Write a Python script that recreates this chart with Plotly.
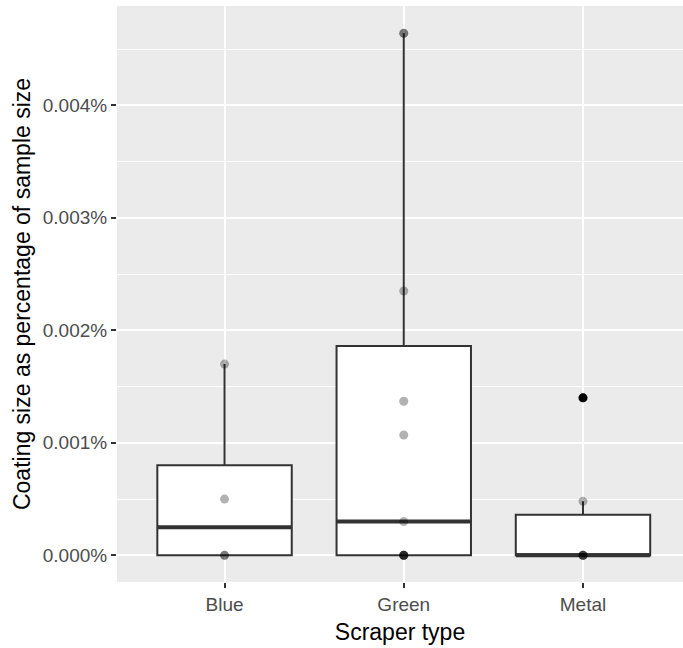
import numpy as np
import plotly.graph_objects as go

categories = ["Blue", "Green", "Metal"]
positions = [1, 2, 3]
blue_vals = [0.0, 0.0, 0.0005, 0.0017]
green_vals = [0.0, 0.0, 0.0, 0.0, 0.0, 0.0003, 0.00107, 0.00137, 0.00235, 0.00464, 0.00464]
metal_vals = [0.0, 0.0, 0.0, 0.0, 0.00048, 0.0014]
groups = [blue_vals, green_vals, metal_vals]
y_ticks = [0.0, 0.001, 0.002, 0.003, 0.004]
y_tick_labels = ["0.000%", "0.001%", "0.002%", "0.003%", "0.004%"]

BOX_W = 0.75
LINE = "#333333"


def box_stats(vals):
    v = np.asarray(vals, dtype=float)
    q1, med, q3 = np.percentile(v, [25, 50, 75])
    iqr = q3 - q1
    lo_lim, hi_lim = q1 - 1.5 * iqr, q3 + 1.5 * iqr
    inside = v[(v >= lo_lim) & (v <= hi_lim)]
    outl = v[(v < lo_lim) | (v > hi_lim)]
    return q1, med, q3, inside.min(), inside.max(), outl


fig = go.Figure()
stats = [box_stats(g) for g in groups]
for pos, (q1, med, q3, lf, uf, outl) in zip(positions, stats):
    fig.add_trace(go.Box(
        x=[pos], q1=[q1], median=[med], q3=[q3], lowerfence=[lf], upperfence=[uf],
        width=BOX_W, whiskerwidth=0, fillcolor="white", boxpoints=False,
        line=dict(color=LINE, width=2), showlegend=False, hoverinfo="skip"))

for pos, (q1, med, q3, lf, uf, outl) in zip(positions, stats):
    fig.add_trace(go.Scatter(
        x=[pos - BOX_W / 2, pos + BOX_W / 2], y=[med, med], mode="lines",
        line=dict(color=LINE, width=4), showlegend=False, hoverinfo="skip"))
    if len(outl):
        fig.add_trace(go.Scatter(
            x=[pos] * len(outl), y=list(outl), mode="markers",
            marker=dict(color="black", size=9, line=dict(width=0)),
            showlegend=False, hoverinfo="skip"))

for pos, vals in zip(positions, groups):
    fig.add_trace(go.Scatter(
        x=[pos] * len(vals), y=vals, mode="markers",
        marker=dict(color="black", size=9, opacity=0.3, line=dict(width=0)),
        showlegend=False, hoverinfo="skip"))

fig.update_layout(
    width=683, height=648,
    margin=dict(l=117, r=0, t=6, b=66),
    paper_bgcolor="white", plot_bgcolor="#EBEBEB",
    font=dict(family="Liberation Sans, Arial, sans-serif"),
    xaxis=dict(
        range=[0.4, 3.558], tickvals=positions, ticktext=categories,
        showgrid=True, gridcolor="white", gridwidth=2, zeroline=False,
        ticks="outside", ticklen=5, tickwidth=2, tickcolor=LINE,
        tickfont=dict(size=19, color="#4D4D4D"), automargin=False,
        title=dict(text="Scraper type", font=dict(size=23, color="black"), standoff=10),
    ),
    yaxis=dict(
        range=[-0.000237, 0.004883], tickvals=y_ticks, ticktext=y_tick_labels,
        showgrid=True, gridcolor="white", gridwidth=2, zeroline=False,
        ticks="outside", ticklen=5, tickwidth=2, tickcolor=LINE,
        tickfont=dict(size=19, color="#4D4D4D"), automargin=False,
        minor=dict(dtick=0.0005, tick0=0, showgrid=True, gridcolor="white", gridwidth=1, ticks=""),
        title=dict(text="Coating size as percentage of sample size", font=dict(size=23, color="black"), standoff=5),
    ),
)
fig.write_html("out.html", config={"displayModeBar": False},
               post_script="document.body.style.margin='0';")
